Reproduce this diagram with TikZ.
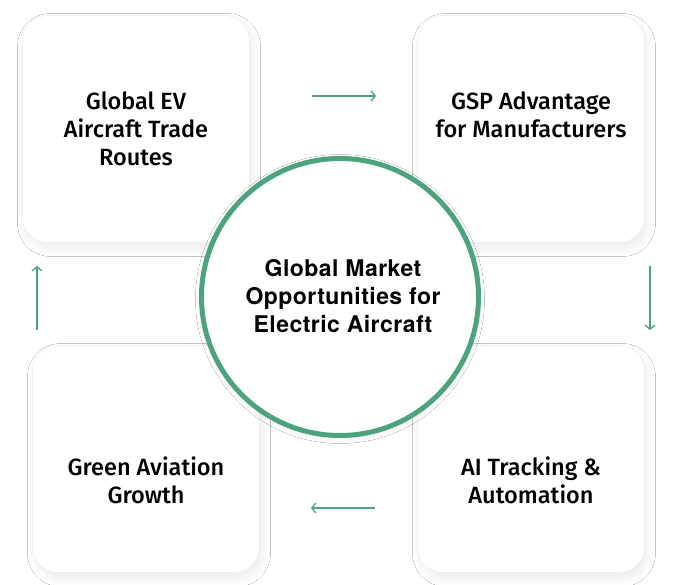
\documentclass[tikz,border=0pt]{standalone}
\usepackage{fontspec}
\setmainfont{Fira Sans}
\newfontfamily\cardfont{Fira Sans Medium}
\newfontfamily\hubfont{TeX Gyre Heros}[LetterSpace=2]
\usepackage{tikz}
\usetikzlibrary{arrows.meta,shadows.blur}
\definecolor{leaf}{RGB}{76,163,125}
\definecolor{edge}{RGB}{232,239,245}
\tikzset{
    card/.style={rectangle,rounded corners=25pt,draw=edge,line width=0.6pt,fill=white,
        minimum width=227pt,minimum height=227pt,
        blur shadow={shadow xshift=3pt,shadow yshift=-6pt,shadow blur radius=8pt,shadow blur steps=12,shadow opacity=8}},
    cardtext/.style={align=center,font=\cardfont\fontsize{23.5}{28}\selectfont,text=black},
    hub/.style={circle,draw=leaf,line width=5pt,fill=white,minimum size=277pt,
        blur shadow={shadow xshift=0pt,shadow yshift=-2pt,shadow blur radius=6pt,shadow opacity=10}},
    hubtext/.style={align=center,font=\hubfont\bfseries\fontsize{23}{28}\selectfont,text=black},
    flow/.style={draw=leaf,line width=1.3pt,-{Straight Barb[length=4pt,width=10pt,line width=1.3pt]}}
}

\begin{document}
\begin{tikzpicture}[x=1pt,y=-1pt]
    \useasboundingbox[fill=white] (0,0) rectangle (687,585);
    % four cards
    \node[card] (trade) at (136,129) {};
    \node[card] (gsp) at (531,129) {};
    \node[card] (green) at (146,459) {};
    \node[card] (ai) at (531,459) {};
    \node[cardtext] (tradetxt) at (136,129) {Global EV\\Aircraft Trade\\Routes};
    \node[cardtext] (gsptxt) at (531,115) {GSP Advantage\\for Manufacturers};
    \node[cardtext] (greentxt) at (146,480) {Green Aviation\\Growth};
    \node[cardtext] (aitxt) at (531,480) {AI Tracking \&\\Automation};
    % centre
    \node[hub] (market) at (340,297) {};
    \node[hubtext] (markettxt) at (343,296) {Global Market\\Opportunities for\\Electric Aircraft};
    % arrows
    \coordinate (a1) at (312,96);  \coordinate (a2) at (376,96);
    \coordinate (b1) at (650,266); \coordinate (b2) at (650,330);
    \coordinate (c1) at (375,508); \coordinate (c2) at (311,508);
    \coordinate (d1) at (37,330);  \coordinate (d2) at (37,266);
    \draw[flow] (a1) -- (a2);
    \draw[flow] (b1) -- (b2);
    \draw[flow] (c1) -- (c2);
    \draw[flow] (d1) -- (d2);
\end{tikzpicture}
\end{document}
